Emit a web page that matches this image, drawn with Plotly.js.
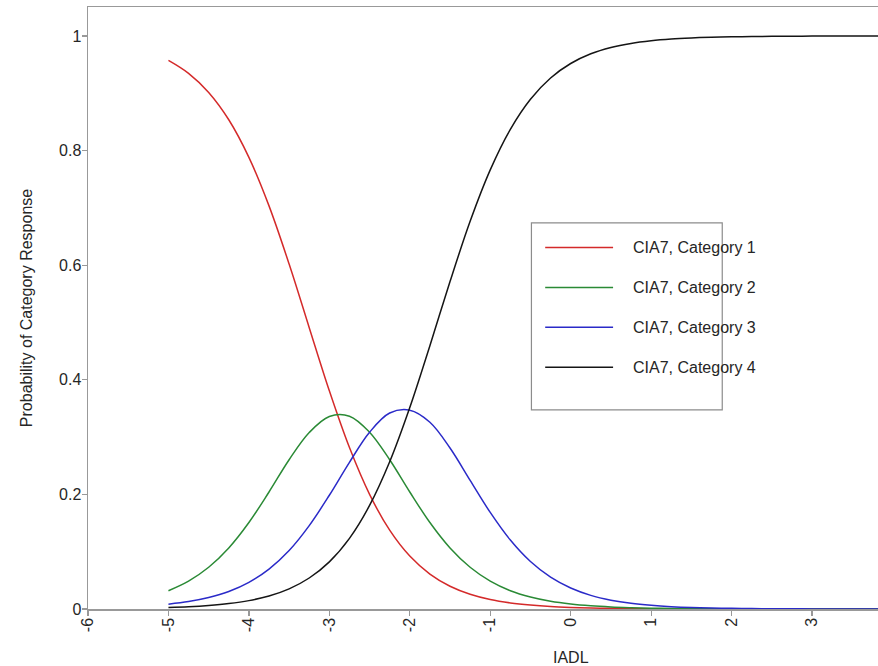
<!DOCTYPE html>
<html><head><meta charset="utf-8">
<script src="https://cdn.plot.ly/plotly-3.0.1.min.js"></script>
<style>html,body{margin:0;padding:0;background:#fff;overflow:hidden}</style>
</head><body><div id="chart" style="width:878px;height:666px"></div>
<script>
// IADL (theta) grid
const theta = [-5,-4.75,-4.5,-4.25,-4,-3.75,-3.5,-3.25,-3,-2.75,-2.5,-2.25,-2,-1.75,-1.5,-1.25,-1,-0.75,-0.5,-0.25,0,0.25,0.5,0.75,1,1.25,1.5,1.75,2,2.25,2.5,2.75,3,3.25,3.5,3.75,4];
const cat1 = [0.9575,0.9349,0.9015,0.8538,0.7882,0.7035,0.6020,0.4910,0.3808,0.2817,0.2001,0.1375,0.0923,0.0609,0.0397,0.0257,0.0165,0.0106,0.0068,0.0043,0.0028,0.0018,0.0011,0.0007,0.0005,0.0003,0.0002,0.0001,0.0001,0.0001,0,0,0,0,0,0,0];
const cat2 = [0.0319,0.0486,0.0728,0.1065,0.1509,0.2042,0.2605,0.3080,0.3360,0.3365,0.3085,0.2605,0.2042,0.1509,0.1065,0.0728,0.0486,0.0319,0.0208,0.0134,0.0086,0.0055,0.0035,0.0023,0.0014,0.0009,0.0006,0.0004,0.0002,0.0002,0.0001,0.0001,0,0,0,0,0];
const cat3 = [0.0085,0.0129,0.0199,0.0305,0.0465,0.0696,0.1020,0.1455,0.1985,0.2560,0.3085,0.3420,0.3470,0.3260,0.2810,0.2245,0.1685,0.1203,0.0828,0.0555,0.0366,0.0238,0.0154,0.0099,0.0064,0.0041,0.0026,0.0017,0.0011,0.0007,0.0004,0.0003,0.0002,0.0001,0.0001,0,0];
const cat4 = [0.0024,0.0038,0.0060,0.0094,0.0146,0.0227,0.0352,0.0541,0.0823,0.1233,0.1807,0.2569,0.3516,0.4596,0.5715,0.6766,0.7664,0.8372,0.8897,0.9268,0.9520,0.9689,0.9799,0.9871,0.9917,0.9947,0.9966,0.9979,0.9986,0.9991,0.9994,0.9996,0.9998,0.9999,0.9999,0.9999,1.0];
const seriesNames = ['CIA7, Category 1','CIA7, Category 2','CIA7, Category 3','CIA7, Category 4'];
const xTickVals = [-6,-5,-4,-3,-2,-1,0,1,2,3,4,5,6];
const xTickText = ['-6','-5','-4','-3','-2','-1','0','1','2','3','4','5','6'];
const yTickVals = [0,0.2,0.4,0.6,0.8,1];
const yTickText = ['0','0.2','0.4','0.6','0.8','1'];

const colors = ['#d42a2a','#2a8a35','#2a2ac8','#151515'];
const series = [cat1,cat2,cat3,cat4];
const FONT = 'Arial, "Liberation Sans", sans-serif';
const TXT = '#262626';

const traces = series.map((s,i)=>({
  x: theta, y: s, type:'scatter', mode:'lines', name: seriesNames[i],
  line:{color:colors[i], width:1.5, shape:'spline', smoothing:1},
  showlegend:false, hoverinfo:'x+y+name'
}));

// manual legend (box, line samples, labels)
const legBox = {x0:-0.488, x1:1.884, y0:0.3476, y1:0.674};
const legRows = [0.6307,0.5609,0.4916,0.4218];
const shapes = [{type:'rect', xref:'x', yref:'y', x0:legBox.x0, x1:legBox.x1, y0:legBox.y0, y1:legBox.y1,
  line:{color:'#8c8c8c', width:1.2}, fillcolor:'#ffffff', layer:'above'}];
const annotations = [];
legRows.forEach((yy,i)=>{
  shapes.push({type:'line', xref:'x', yref:'y', x0:-0.317, x1:0.527, y0:yy, y1:yy,
    line:{color:colors[i], width:1.5}, layer:'above'});
  annotations.push({xref:'x', yref:'y', x:0.748, y:yy, text:seriesNames[i], showarrow:false,
    xanchor:'left', yanchor:'middle', font:{family:FONT, size:16, color:TXT}});
});
annotations.push({xref:'x', yref:'paper', x:0, y:0, yshift:-48, text:'IADL', showarrow:false,
  xanchor:'center', yanchor:'middle', font:{family:FONT, size:16, color:TXT}});

const layout = {
  width:878, height:666,
  margin:{l:88, r:0, t:7, b:57},
  paper_bgcolor:'#ffffff', plot_bgcolor:'#ffffff',
  font:{family:FONT, size:16, color:TXT},
  xaxis:{range:[-6,3.82], tickvals:xTickVals, ticktext:xTickText, tickangle:-90,
    showgrid:false, zeroline:false, showline:true, mirror:true, linecolor:'#999999', linewidth:1.5,
    ticks:'outside', ticklen:5, tickcolor:'#999999', tickwidth:1.2, ticklabelstandoff:-4,
    tickfont:{family:FONT, size:16, color:TXT}},
  yaxis:{range:[0,1.0506], tickvals:yTickVals, ticktext:yTickText,
    showgrid:false, zeroline:false, showline:true, mirror:false, linecolor:'#999999', linewidth:1.5,
    ticks:'outside', ticklen:5, tickcolor:'#999999', tickwidth:1.2, ticklabelstandoff:-3,
    tickfont:{family:FONT, size:16, color:TXT}},
  shapes:shapes, annotations:annotations, showlegend:false
};
layout.yaxis.title = {text:'Probability of Category Response', font:{family:FONT, size:16, color:TXT}, standoff:22};
Plotly.newPlot('chart', traces, layout, {displayModeBar:false, staticPlot:true});
</script></body></html>
